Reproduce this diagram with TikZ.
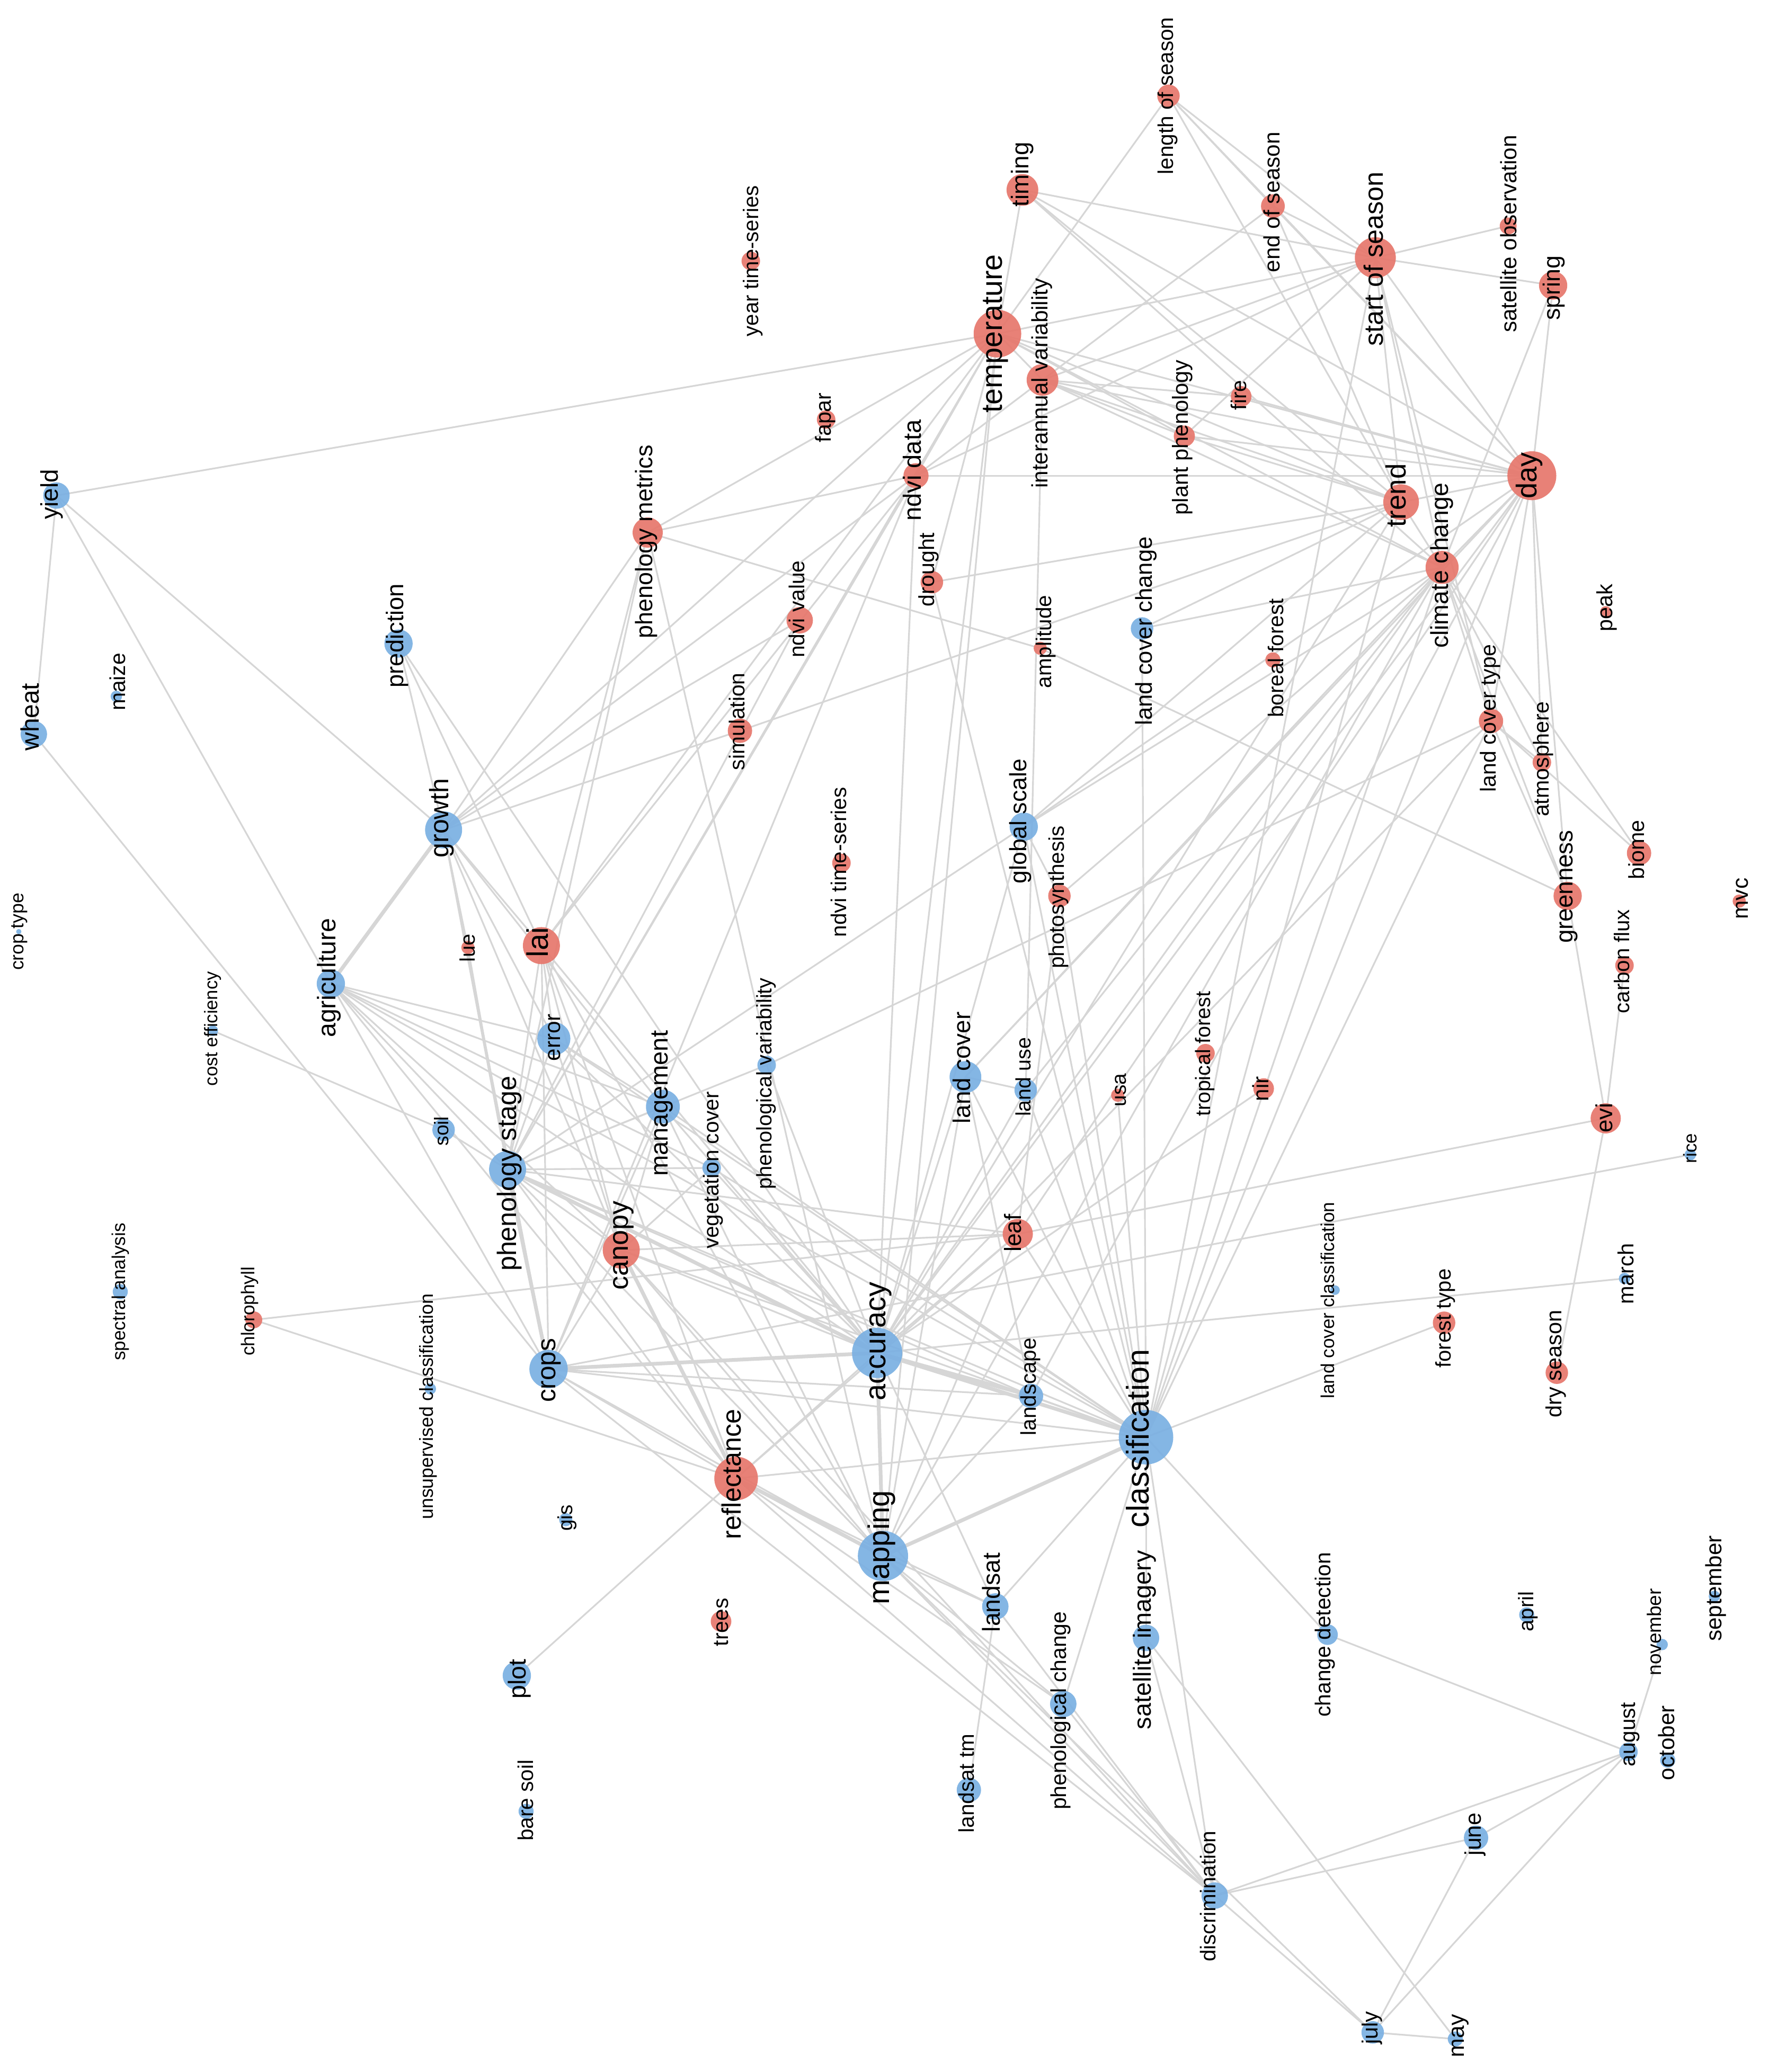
\documentclass[tikz,border=0pt]{standalone}
\usepackage{fontspec}
\setmainfont{Liberation Sans}
\definecolor{nb}{RGB}{122,176,226}
\definecolor{nr}{RGB}{231,119,108}
\definecolor{edgegray}{RGB}{214,214,214}
\tikzset{
  edgeline/.style={draw=edgegray, line width=0.9pt},
  thickedge/.style={draw=edgegray, line width=2pt},
  dot/.style={circle, inner sep=0pt, draw=none, fill opacity=0.92},
  lab/.style={rotate=90, anchor=mid, inner sep=0pt, text=black}
}
\def\nodelist{%
los/884/72.5/8.5/nr/884/72.5/11.5/length of season,
timing/773.5/143.7/12/nr/774.6/132/13/timing,
eos/963/156/9/nr/964.5/153/12/end of season,
sos/1040.5/195/15.5/nr/1042.7/196/14.3/start of season,
satobs/1141/171/6.4/nr/1143.6/177/12/satellite observation,
spring/1175/216/10.7/nr/1176.5/218/12.7/spring,
yts/568/197.5/7/nr/570/197.5/11.4/year time-series,
temp/754.6/252.5/18/nr/754.6/252.5/15.8/temperature,
iav/788.7/287.5/12/nr/788.7/290/12/interannual variability,
fapar/625/317.5/7/nr/625/316/11.7/fapar,
plantph/896/330/8/nr/895/331/11.8/plant phenology,
fire/939/300/7.8/nr/939/299/11.5/fire,
ndvidata/693/360/9.5/nr/693/356/13.4/ndvi data,
trend/1060/380/13.5/nr/1060/375/15/trend,
day/1158.9/360/18.5/nr/1158.9/360/15.4/day,
pm/490/403/11.4/nr/490/410/12.8/phenology metrics,
yield/42.7/375/10/nb/40/374/13/yield,
drought/705/440.6/8.5/nr/703/431/11.7/drought,
ndvival/605/469.4/10/nr/605/461/11.6/ndvi value,
cc/1091/429.4/12.5/nr/1092/428/13.2/climate change,
ampl/787/490.6/5/nr/791.6/485.6/11.5/amplitude,
lcc/864/475.6/8.5/nb/868/477.5/12.4/land cover change,
boreal/963/499.4/5.7/nr/967.4/498/11.5/boreal forest,
peak/1214.8/463/4.3/nr/1216/460/11.8/peak,
pred/301.5/487/10.7/nb/301.5/481/12.9/prediction,
maize/88/527/4.3/nb/91/516/11.6/maize,
wheat/25.6/555.6/10/nb/25.6/542.5/13.6/wheat,
sim/559.8/553/9.2/nr/559.8/546/11.6/simulation,
lct/1128/545.6/9.2/nr/1128/543.6/11.7/land cover type,
atmo/1166.5/576.9/7/nr/1168/574.5/11.7/atmosphere,
gscale/774.5/625.6/10.7/nb/773/621.5/12.7/global scale,
nts/636.6/653/7/nr/636.6/652.5/11.5/ndvi time-series,
photo/801.5/678/8.5/nr/801.5/679/11.5/photosynthesis,
growth/335.6/628/14/nb/335.6/619/14.2/growth,
biome/1240/645.6/9.2/nr/1240.4/643/11.7/biome,
green/1186/678/10.7/nr/1186/671/13/greenness,
mvc/1315.8/681.9/5/nr/1318.6/680/12/mvc,
croptype/14.2/705/2/nb/14.2/705/10.1/crop type,
lai/409.6/715.6/14/nr/411/713/16/lai,
lue/354/717/5/nr/355.5/717.5/11.3/lue,
cflux/1229/730.6/7/nr/1229/727.5/11.4/carbon flux,
agri/250.3/744.4/10.7/nb/250/740/13.7/agriculture,
costeff/161/780/4/nb/161/778.5/9.8/cost efficiency,
error/419/786/12.5/nb/420/785/12/error,
phvar/580/806/7/nb/580/820/11.3/phenological variability,
landcover/730.4/815/12/nb/730.4/808/13/land cover,
landuse/776/825/8.5/nb/776/815/11.2/land use,
mgmt/501.5/837.5/12.8/nb/501.5/835/13.4/management,
tropical/912/797/7/nr/912/797.5/11.2/tropical forest,
usa/845.6/828.8/5/nr/848.4/825/11/usa,
nir/956/823.8/7.8/nr/956/824/12/nir,
soil/335.6/855/8.5/nb/335.6/856/10.6/soil,
evi/1214.8/846.3/11.4/nr/1216/846/12.5/evi,
rice/1278.8/873.8/4.3/nb/1280/869/9.9/rice,
phstage/384/885/14/nb/386.8/888/14.3/phenology stage,
vegcov/538.4/883.8/7/nb/539.9/885.6/11.5/vegetation cover,
canopy/470/946/14/nr/471.6/942.5/14.8/canopy,
leaf/770/933.8/11.4/nr/768.8/933/12.6/leaf,
spectral/91/977.5/5.7/nb/91/977.6/10/spectral analysis,
chloro/192/998.8/6.4/nr/189/992.4/10/chlorophyll,
lcclass/1010/976.3/3.6/nb/1005.8/984/10/land cover classification,
foresttype/1092.5/1001/8.5/nr/1094/997.6/11.4/forest type,
march/1229/967.5/4.3/nb/1232/964/11.8/march,
dryseason/1177.8/1038.8/8.5/nr/1177.8/1032/11.8/dry season,
accuracy/663.6/1023.8/19/nb/666.4/1015/15.9/accuracy,
crops/415/1036/14.5/nb/416.7/1037/14.1/crops,
unsup/325.6/1051/4.3/nb/324/1064.4/10.2/unsupervised classification,
landscape/780/1056.3/9.2/nb/780/1049.4/11.5/landscape,
classif/867/1087.6/20.6/nb/865.5/1088.5/16.9/classification,
refl/556.9/1118.8/16.5/nr/556.9/1115.6/14.3/reflectance,
gis/428/1150/5/nb/429.5/1148.8/11/gis,
mapping/668/1177.5/19/nb/669/1171/16/mapping,
trees/545.5/1227/7.8/nr/547/1227.6/11.6/trees,
landsat/753/1215.7/10/nb/753/1205/13.2/landsat,
changedet/1004.3/1237/7.8/nb/1003/1237/11.6/change detection,
satimg/867/1239.5/10/nb/867/1241/13.3/satellite imagery,
april/1155/1222/5.7/nb/1156.5/1219.5/11.3/april,
september/1297/1208/4.3/nb/1298.7/1202/12/september,
november/1257.5/1244.5/4.3/nb/1253/1235/10.5/november,
plot/391/1268/10.7/nb/394/1270.7/13.2/plot,
phchange/804.4/1289.5/10/nb/803/1294.5/11.6/phenological change,
august/1232/1325.7/7/nb/1233.3/1312.5/11.5/august,
october/1261.7/1332/5.7/nb/1263/1319/12/october,
landsattm/733/1354.5/9.2/nb/733/1349.5/11.5/landsat tm,
baresoil/398/1370.7/5.7/nb/399.6/1362.5/11.5/bare soil,
june/1116.7/1390.7/9.2/nb/1116.7/1388/12.2/june,
discr/919/1434.5/10/nb/916/1435/11.5/discrimination,
july/1038.5/1538/8.5/nb/1038.5/1534.5/11.8/july,
may/1101/1543/5.7/nb/1104/1540.7/12.2/may}
\begin{document}
\begin{tikzpicture}[x=0.024955cm, y=-0.024955cm]
\useasboundingbox (0,0) rectangle (1338,1568);
\fill[white] (0,0) rectangle (1338,1568);
% coordinates
\foreach \nm/\px/\py/\rad/\col/\lx/\ly/\fsz/\txt in \nodelist {
  \coordinate (\nm) at (\px,\py);
}
% connectors
\foreach \a/\b in {los/eos, los/sos, los/trend, los/day, los/temp,
 timing/temp, timing/sos, timing/trend, timing/day, timing/cc,
 eos/sos, eos/day, eos/trend, eos/iav,
 sos/spring, sos/satobs, sos/temp, sos/iav, sos/ndvidata, sos/plantph, sos/trend, sos/cc, sos/day, sos/lct, sos/classif,
 spring/day, spring/cc,
 temp/iav, temp/day, temp/trend, temp/cc, temp/plantph, temp/yield, temp/growth, temp/pm, temp/lai, temp/phstage, temp/accuracy, temp/mapping, temp/ndvidata, temp/drought,
 iav/day, iav/trend, iav/cc, iav/plantph, iav/ndvidata, iav/landuse, iav/fire,
 plantph/day, plantph/trend, fire/day,
 ndvidata/day, ndvidata/pm, ndvidata/accuracy, ndvidata/phstage, ndvidata/crops, ndvidata/growth,
 trend/day, trend/cc, trend/drought, trend/classif, trend/accuracy, trend/lcc, trend/gscale, trend/sim,
 cc/day, cc/lct, cc/atmo, cc/green, cc/biome, cc/classif, cc/accuracy, cc/landcover, cc/mapping, cc/gscale, cc/photo, cc/landuse, cc/lcc,
 day/green, day/lct, day/atmo, day/accuracy, day/classif, day/landcover, day/gscale, day/landscape, day/leaf,
 lct/green, lct/biome, lct/atmo, lct/accuracy, lct/classif, lct/phvar,
 green/evi, green/ampl, cflux/evi, evi/dryseason, evi/leaf,
 rice/crops, march/accuracy, foresttype/classif, nir/accuracy,
 pm/growth, pm/ampl, pm/mapping, pm/phstage, pm/lai,
 yield/wheat, yield/agri, yield/growth, wheat/crops,
 pred/growth, pred/lai, pred/accuracy,
 growth/lai, growth/lue, growth/sim, growth/ndvival, growth/phstage, growth/crops, growth/canopy, growth/error, growth/mgmt,
 ndvival/phstage,
 agri/phstage, agri/mgmt, agri/accuracy, agri/error, agri/canopy, agri/classif, agri/refl, agri/crops, agri/vegcov,
 lue/phstage,
 lai/error, lai/canopy, lai/phstage, lai/refl, lai/accuracy, lai/mapping, lai/crops, lai/ndvidata,
 costeff/soil, soil/phstage,
 error/phstage, error/mgmt, error/accuracy, error/classif, error/canopy,
 mgmt/phstage, mgmt/canopy, mgmt/accuracy, mgmt/classif, mgmt/mapping, mgmt/crops,
 vegcov/phstage, vegcov/accuracy, vegcov/classif,
 phvar/accuracy, phvar/phstage,
 phstage/canopy, phstage/refl, phstage/mapping, phstage/classif, phstage/leaf, phstage/landscape, phstage/gscale,
 canopy/crops, canopy/accuracy, canopy/mapping, canopy/leaf, canopy/classif, canopy/vegcov, canopy/discr,
 chloro/leaf, chloro/refl,
 crops/refl, crops/mapping, crops/classif, crops/landscape, crops/discr,
 refl/accuracy, refl/classif, refl/leaf, refl/plot, refl/phchange, refl/discr, refl/landsat,
 accuracy/landcover, accuracy/landuse, accuracy/leaf, accuracy/gscale, accuracy/landsat,
 classif/landscape, classif/landcover, classif/landuse, classif/leaf, classif/usa, classif/changedet, classif/satimg, classif/phchange, classif/discr, classif/landsat, classif/gscale, classif/lcc, classif/drought, classif/photo,
 mapping/landsat, mapping/landscape, mapping/landcover, mapping/phchange, mapping/discr, mapping/july, mapping/leaf,
 landcover/landuse, landcover/landscape,
 landsat/landsattm, landsat/discr,
 phchange/discr, satimg/discr, satimg/may,
 changedet/august, november/august,
 june/august, june/july, june/discr, august/discr, august/july, july/may, discr/july,
 gscale/photo, leaf/photo}
 { \draw[edgeline] (\a) -- (\b); }
\foreach \a/\b in {accuracy/classif, classif/mapping, accuracy/mapping, growth/agri, phstage/crops, phstage/accuracy, accuracy/landscape, crops/accuracy, canopy/refl, refl/mapping}
 { \draw[thickedge] (\a) -- (\b); }
% circles
\foreach \nm/\px/\py/\rad/\col/\lx/\ly/\fsz/\txt in \nodelist {
  \node[dot, fill=\col, minimum size={\rad*0.04991cm}] (\nm-dot) at (\nm) {};
}
% labels
\foreach \nm/\px/\py/\rad/\col/\lx/\ly/\fsz/\txt in \nodelist {
  \node[lab, font=\fontsize{\fsz pt}{\fsz pt}\selectfont] (\nm-lab) at (\lx,\ly) {\txt};
}
\end{tikzpicture}
\end{document}
